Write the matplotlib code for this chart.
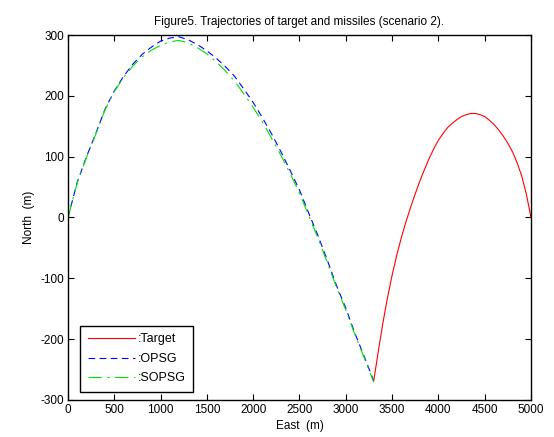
import matplotlib
matplotlib.use('Agg')
import matplotlib.pyplot as plt

plt.rcParams['font.family'] = ['Liberation Sans', 'DejaVu Sans']
plt.rcParams['axes.unicode_minus'] = False

# target trajectory (east, north) in metres
target_east = [3300, 3350, 3400, 3450, 3500, 3550, 3600, 3650, 3700, 3750, 3800,
               3850, 3900, 3950, 4000, 4050, 4100, 4150, 4200, 4250, 4300, 4350,
               4400, 4450, 4500, 4550, 4600, 4650, 4700, 4750, 4800, 4850, 4900,
               4950, 5000]
target_north = [-270, -221, -174, -132, -95, -62, -33, -7, 17, 39, 60,
                 79, 97, 113, 127, 138, 148, 155, 161, 166, 169, 171,
                 171, 169, 166, 160, 153, 144, 134, 122, 108, 90, 68,
                 38, 0]

# missile trajectories
missile_east = [0, 100, 200, 300, 400, 500, 600, 700, 800, 900, 1000, 1100, 1200,
                1300, 1400, 1500, 1600, 1700, 1800, 1900, 2000, 2100, 2200, 2300,
                2400, 2500, 2600, 2700, 2800, 2900, 3000, 3100, 3200, 3300]
opsg_north = [0, 58, 100, 138, 178, 208, 232, 252, 268, 280, 290, 295, 297,
              292, 284, 274, 262, 248, 232, 211, 189, 164, 137, 108,
              77, 45, 7, -30, -70, -112, -149, -191, -229, -268]
sopsg_north = [0, 57, 99, 137, 177, 207, 230, 249, 264, 275, 283, 289, 291,
               287, 279, 269, 256, 241, 224, 203, 181, 157, 130, 102,
               72, 40, 3, -34, -74, -115, -152, -193, -231, -270]

fig = plt.figure(figsize=(5.54, 4.37), dpi=100)
ax = fig.add_axes([0.1227, 0.0847, 0.8358, 0.8352])

ax.plot(target_east, target_north, '-', color='red', lw=0.8, label=':Target')
ax.plot(missile_east, opsg_north, '--', color='blue', lw=0.8, dashes=(6, 4), label=':OPSG')
ax.plot(missile_east, sopsg_north, '-.', color='#00e000', lw=0.8,
        dashes=(12, 5, 2, 5), label=':SOPSG')

ax.set_xlim(0, 5000)
ax.set_ylim(-300, 300)
ax.set_xticks(range(0, 5001, 500))
ax.set_yticks(range(-300, 301, 100))
ax.tick_params(direction='in', length=4, width=0.8, top=True, right=True,
               labelsize=8.5, pad=3)
for sp in ax.spines.values():
    sp.set_linewidth(1.0)

ax.set_title('Figure5. Trajectories of target and missiles (scenario 2).',
             fontsize=8.5, pad=7)
ax.set_xlabel('East  (m)', fontsize=8.5, labelpad=3)
ax.set_ylabel('North  (m)', fontsize=8.5, labelpad=4)

leg = ax.legend(loc='lower left', bbox_to_anchor=(0.026, 0.022), borderaxespad=0,
                fontsize=9, handlelength=3.8, handletextpad=0.2,
                fancybox=False, framealpha=1, edgecolor='black',
                borderpad=0.6, labelspacing=0.6)
leg.get_frame().set_linewidth(1.0)

fig.savefig('out.png', dpi=100)
